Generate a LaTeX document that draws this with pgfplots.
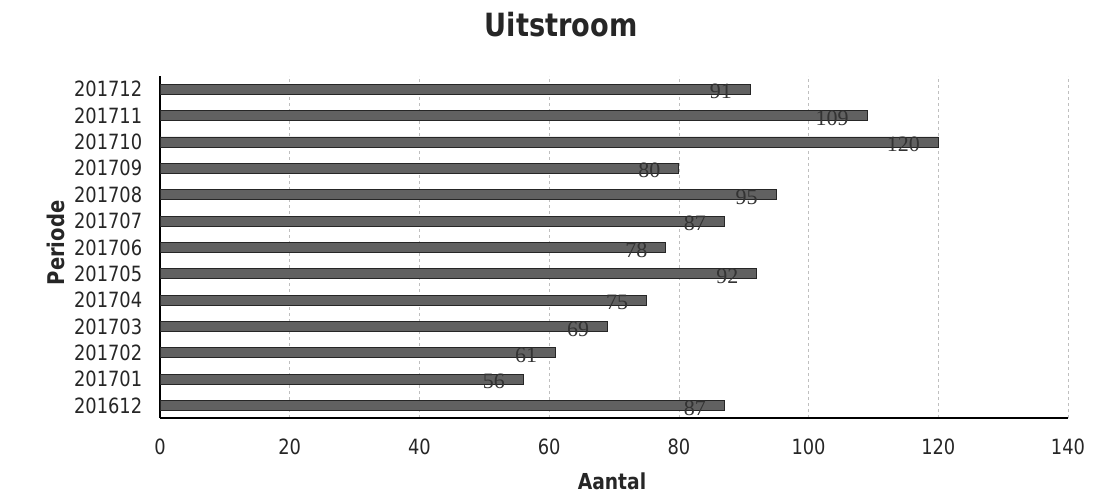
\documentclass[border=0pt]{standalone}
\usepackage{fontspec}
\setmainfont{DejaVu Sans}[FakeStretch=0.85]
\newfontfamily\valfont{Liberation Serif}
\usepackage{pgfplots}
\pgfplotsset{compat=1.18}

\begin{document}
\begin{tikzpicture}
\path[use as bounding box] (0pt,0pt) rectangle (1109pt,-494pt);

% titles
\node[font=\bfseries\fontsize{32}{32}\selectfont, text=black!85, anchor=base] at (561pt,-37pt) {Uitstroom};
\node[font=\bfseries\fontsize{23}{23}\selectfont, text=black!85, rotate=90] at (56pt,-243pt) {Periode};
\node[font=\bfseries\fontsize{22}{22}\selectfont, text=black!85] at (612pt,-481pt) {Aantal};

\begin{axis}[
    at={(160pt,-418pt)}, anchor=south west,
    scale only axis,
    width=908pt, height=342pt,
    /pgf/number format/assume math mode=true,
    xbar, bar width=10pt,
    xmin=0, xmax=140,
    xtick={0,20,...,140},
    ymin=-0.47, ymax=12.5,
    ytick={0,...,12},
    yticklabels={201612,201701,201702,201703,201704,201705,201706,201707,201708,201709,201710,201711,201712},
    axis x line*=bottom, axis y line*=left,
    axis line style={-, black, line width=1.2pt},
    tick style={draw=none},
    xmajorgrids,
    grid style={black!25, dashed, line width=0.6pt},
    tick label style={font=\fontsize{21}{21}\selectfont, text=black!85},
    xticklabel style={yshift=-17pt},
    yticklabel style={xshift=-10pt},
    nodes near coords,
    every node near coord/.append style={font=\valfont\fontsize{22}{22}\selectfont,
        text=black!80, anchor=east, inner sep=0pt, xshift=-18pt, yshift=-2.5pt},
]
\addplot[fill=black!62, draw=black!85, line width=0.8pt] coordinates {
    (87,0)
    (56,1)
    (61,2)
    (69,3)
    (75,4)
    (92,5)
    (78,6)
    (87,7)
    (95,8)
    (80,9)
    (120,10)
    (109,11)
    (91,12)
};
\end{axis}
\end{tikzpicture}
\end{document}
